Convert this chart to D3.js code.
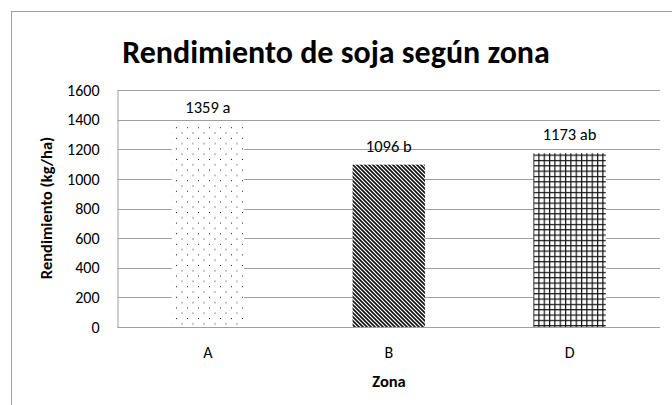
<!DOCTYPE html>
<html><head><meta charset="utf-8">
<script src="https://cdn.jsdelivr.net/npm/d3@7"></script>
<style>html,body{margin:0;padding:0;background:#fff;}svg{display:block;}</style>
</head><body>
<script>
const categories = ["A", "B", "D"];
const values = [1359, 1096, 1173];
const labels = ["1359 a", "1096 b", "1173 ab"];
const yTicks = [0, 200, 400, 600, 800, 1000, 1200, 1400, 1600];
const patterns = ["pDots", "pDiag", "pGrid"];

(function () {
const W = 672, H = 405;
const font = "Carlito, Lato, 'Open Sans', sans-serif";
const svg = d3.select("body").append("svg").attr("width", W).attr("height", H);
const defs = svg.append("defs");

// dotted pattern
const pd = defs.append("pattern").attr("id", "pDots").attr("patternUnits", "userSpaceOnUse")
  .attr("width", 11).attr("height", 10.6);
pd.append("rect").attr("width", 11).attr("height", 10.6).attr("fill", "#fff");
pd.append("rect").attr("x", 0).attr("y", 0).attr("width", 1).attr("height", 1).attr("fill", "#222");
pd.append("rect").attr("x", 5.5).attr("y", 5.3).attr("width", 1).attr("height", 1).attr("fill", "#222");

// diagonal pattern (top-left to bottom-right)
const pg = defs.append("pattern").attr("id", "pDiag").attr("patternUnits", "userSpaceOnUse")
  .attr("width", 4).attr("height", 4);
pg.append("rect").attr("width", 4).attr("height", 4).attr("fill", "#fff");
pg.append("path").attr("d", "M-1,-1 L5,5 M-1,3 L1,5 M3,-1 L5,1").attr("stroke", "#111").attr("stroke-width", 1.6);

// grid pattern
const pr = defs.append("pattern").attr("id", "pGrid").attr("patternUnits", "userSpaceOnUse")
  .attr("width", 5.33).attr("height", 5.33);
pr.append("rect").attr("width", 5.33).attr("height", 5.33).attr("fill", "#fff");
pr.append("rect").attr("x", 0).attr("y", 0).attr("width", 5.33).attr("height", 1.2).attr("fill", "#111");
pr.append("rect").attr("x", 0).attr("y", 0).attr("width", 1.2).attr("height", 5.33).attr("fill", "#111");

// outer chart border (top and left visible)
svg.append("rect").attr("x", 11.5).attr("y", 11.5).attr("width", 800).attr("height", 600)
  .attr("fill", "none").attr("stroke", "#a0a0a0").attr("stroke-width", 1);

const pLeft = 117.5, pRight = 660, pTop = 90, pBottom = 327;
const x = d3.scaleBand().domain(categories).range([pLeft, pRight]).paddingInner(0.6).paddingOuter(0.3);
const y = d3.scaleLinear().domain([0, 1600]).range([pBottom, pTop]);

// gridlines
svg.append("g").selectAll("line").data(yTicks.filter(d => d > 0)).join("line")
  .attr("x1", pLeft).attr("x2", pRight)
  .attr("y1", d => Math.round(y(d)) + 0.5).attr("y2", d => Math.round(y(d)) + 0.5)
  .attr("stroke", "#a0a0a0").attr("stroke-width", 1);

// bars
svg.append("g").selectAll("rect").data(values).join("rect")
  .attr("x", (d, i) => x(categories[i]))
  .attr("width", x.bandwidth())
  .attr("y", d => y(d))
  .attr("height", d => y(0) - y(d))
  .attr("fill", (d, i) => `url(#${patterns[i]})`);

// axes
const yAxis = svg.append("g").attr("transform", `translate(${pLeft},0)`)
  .call(d3.axisLeft(y).tickValues(yTicks).tickFormat(d3.format("d")).tickSize(0).tickPadding(18));
yAxis.select(".domain").attr("stroke", "#a0a0a0");
yAxis.selectAll("text").attr("font-family", font).attr("font-size", 16).attr("fill", "#000");

const xAxis = svg.append("g").attr("transform", `translate(0,${pBottom + 0.5})`)
  .call(d3.axisBottom(x).tickSize(0).tickPadding(19));
xAxis.select(".domain").attr("stroke", "#a0a0a0").attr("d", `M${pLeft},0H${pRight}`);
xAxis.selectAll("text").attr("font-family", font).attr("font-size", 16).attr("fill", "#000");

// data labels
svg.append("g").selectAll("text").data(values).join("text")
  .attr("x", (d, i) => x(categories[i]) + x.bandwidth() / 2)
  .attr("y", d => y(d) - 13)
  .attr("text-anchor", "middle")
  .attr("font-family", font).attr("font-size", 16.5).attr("fill", "#000")
  .text((d, i) => labels[i]);

// title
svg.append("text").attr("x", 336).attr("y", 63).attr("text-anchor", "middle")
  .attr("font-family", font).attr("font-weight", "bold").attr("font-size", 32).attr("fill", "#000")
  .text("Rendimiento de soja según zona");

// axis titles
svg.append("text").attr("x", 389).attr("y", 387).attr("text-anchor", "middle")
  .attr("font-family", font).attr("font-weight", "bold").attr("font-size", 16.5).attr("fill", "#000")
  .text("Zona");
svg.append("text").attr("transform", "translate(52,208) rotate(-90)").attr("text-anchor", "middle")
  .attr("font-family", font).attr("font-weight", "bold").attr("font-size", 16.5).attr("fill", "#000")
  .text("Rendimiento (kg/ha)");
})();
</script>
</body></html>
